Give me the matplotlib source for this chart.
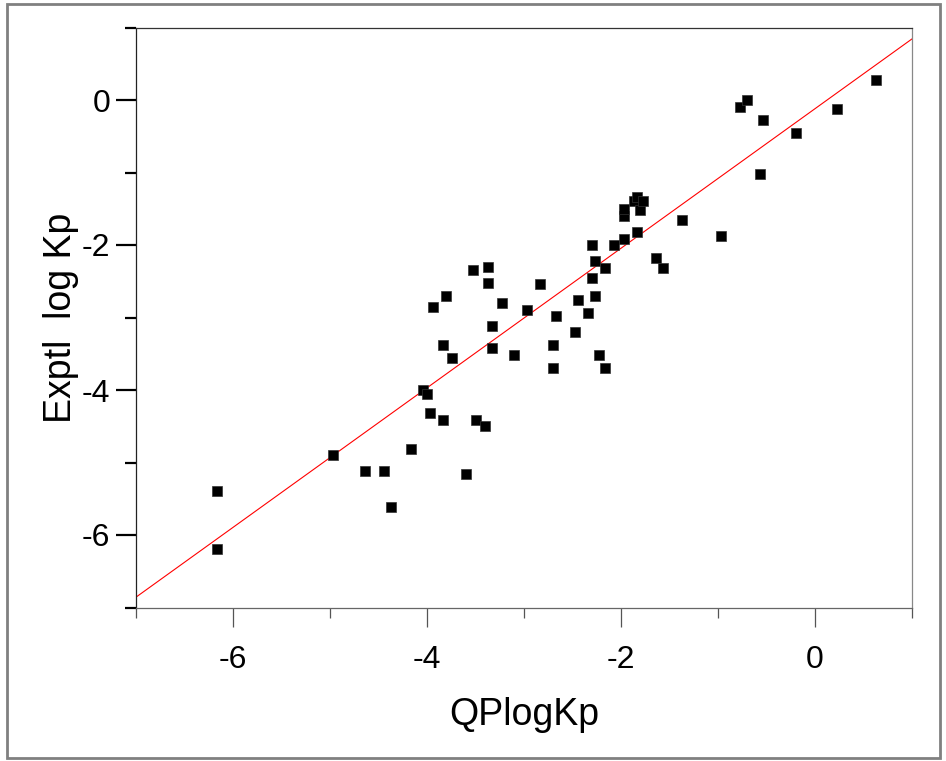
import numpy as np
import matplotlib
matplotlib.use("Agg")
import matplotlib.pyplot as plt
from matplotlib.patches import Rectangle
from matplotlib.ticker import MultipleLocator

plt.rcParams["font.family"] = ["Liberation Sans", "DejaVu Sans"]
plt.rcParams["axes.unicode_minus"] = False

# --------------------------
# Data
# --------------------------
qp_logkp = [
    -6.17, -6.17, -4.97, -4.64, -4.44, -4.37, -4.17, -4.04, -4.00, -3.97,
    -3.94, -3.84, -3.84, -3.80, -3.74, -3.60, -3.53, -3.50, -3.40, -3.37,
    -3.37, -3.33, -3.33, -3.23, -3.10, -2.97, -2.84, -2.70, -2.70, -2.67,
    -2.47, -2.44, -2.34, -2.30, -2.30, -2.27, -2.27, -2.23, -2.16, -2.16,
    -2.07, -1.97, -1.97, -1.97, -1.87, -1.84, -1.84, -1.80, -1.77, -1.64,
    -1.57, -1.37, -0.97, -0.77, -0.70, -0.54, -0.57, -0.20, 0.23, 0.63,
]
exptl_logkp = [
    -5.39, -6.19, -4.90, -5.12, -5.12, -5.61, -4.81, -4.00, -4.06, -4.32,
    -2.85, -3.38, -4.41, -2.71, -3.56, -5.16, -2.35, -4.41, -4.50, -2.31,
    -2.53, -3.12, -3.42, -2.80, -3.52, -2.90, -2.54, -3.38, -3.70, -2.98,
    -3.20, -2.76, -2.94, -2.45, -2.00, -2.22, -2.71, -3.52, -2.32, -3.70,
    -2.00, -1.92, -1.60, -1.51, -1.39, -1.34, -1.82, -1.52, -1.39, -2.18,
    -2.32, -1.65, -1.87, -0.09, 0.00, -0.27, -1.02, -0.45, -0.13, 0.27,
]

# fitted line as drawn on the chart
fit_slope = 0.9625
fit_intercept = -0.12
x_range = [-7, 1]
y_range = [-7, 1]

fig = plt.figure(figsize=(9.46, 7.61), dpi=100)
ax = fig.add_axes([136 / 946, 1 - 607.5 / 761, 776 / 946, 580 / 761])

line_x = np.array(x_range, dtype=float)
ax.plot(line_x, fit_slope * line_x + fit_intercept, color="red", linewidth=0.8, zorder=2)
ax.plot(qp_logkp, exptl_logkp, linestyle="none", marker="s", markersize=7,
        markerfacecolor="black", markeredgecolor="#333333", markeredgewidth=0.5, zorder=3)

ax.set_xlim(*x_range)
ax.set_ylim(*y_range)

ax.xaxis.set_major_locator(MultipleLocator(2))
ax.xaxis.set_minor_locator(MultipleLocator(1))
ax.yaxis.set_major_locator(MultipleLocator(2))
ax.yaxis.set_minor_locator(MultipleLocator(1))

ax.spines["left"].set_color("#222222")
ax.spines["top"].set_color("#333333")
ax.spines["right"].set_color("#888888")
ax.spines["bottom"].set_color("#666666")
for s in ax.spines.values():
    s.set_linewidth(0.9)

ax.tick_params(axis="y", which="major", direction="out", length=14.5, width=1.6,
               color="black", labelsize=23, pad=4)
ax.tick_params(axis="y", which="minor", direction="out", length=8, width=1.6, color="black")
ax.tick_params(axis="x", which="major", direction="out", length=14, width=0.9,
               color="#555555", labelsize=23, pad=13)
ax.tick_params(axis="x", which="minor", direction="out", length=7.5, width=0.9, color="#555555")

ax.set_xlabel("QPlogKp", fontsize=27, labelpad=16)
ax.set_ylabel("Exptl  log Kp", fontsize=27, labelpad=2)

# grey frame round the whole picture
fig.patches.append(Rectangle((7 / 946, 3 / 761), 933 / 946, 754 / 761,
                             transform=fig.transFigure, fill=False,
                             edgecolor="#808080", linewidth=2))

fig.savefig("out.png", dpi=100)
